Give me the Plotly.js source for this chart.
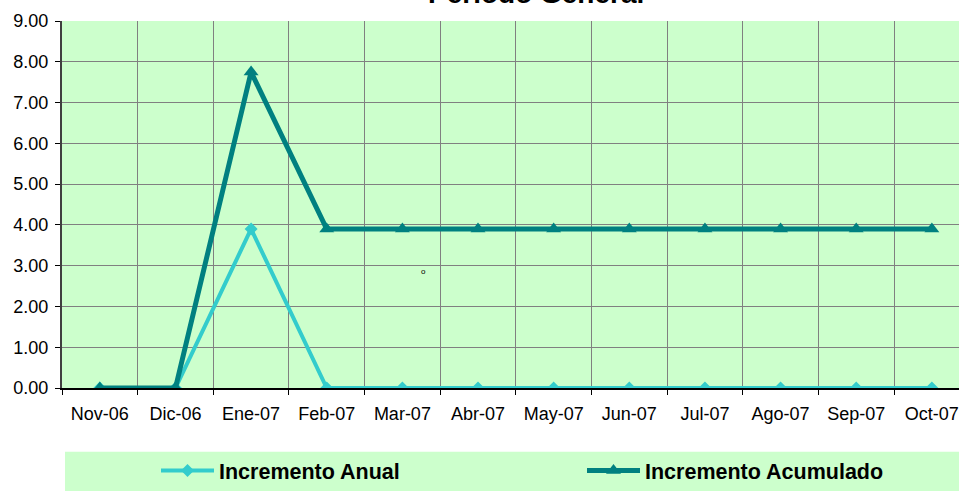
<!DOCTYPE html>
<html>
<head>
<meta charset="utf-8">
<script src="https://cdn.plot.ly/plotly-3.0.1.min.js"></script>
<style>
html,body{margin:0;padding:0;overflow:hidden;background:#fff;}
#chart{width:959px;height:491px;}
</style>
</head>
<body>
<div id="chart"></div>
<script>
const categories = ["Nov-06","Dic-06","Ene-07","Feb-07","Mar-07","Abr-07","May-07","Jun-07","Jul-07","Ago-07","Sep-07","Oct-07"];
const incrementoAnual = [0, 0, 3.9, 0, 0, 0, 0, 0, 0, 0, 0, 0];
const incrementoAcumulado = [0, 0, 7.75, 3.9, 3.9, 3.9, 3.9, 3.9, 3.9, 3.9, 3.9, 3.9];
const yTicks = [0,1,2,3,4,5,6,7,8,9];

const L = 62, R = 959, T = 21, B = 389;
const px = v => (v - L) / (R - L);
const py = v => (B - v) / (B - T);
const font = "Liberation Sans, Arial, sans-serif";

const traces = [
  {
    x: categories, y: incrementoAnual, name: "Incremento Anual",
    type: "scatter", mode: "lines+markers",
    line: {color: "#33CCCC", width: 4},
    marker: {symbol: "diamond", size: 10, color: "#33CCCC"},
    legend: "legend"
  },
  {
    x: categories, y: incrementoAcumulado, name: "Incremento Acumulado",
    type: "scatter", mode: "lines+markers",
    line: {color: "#008080", width: 5},
    marker: {symbol: "triangle-up", size: 13, color: "#008080"},
    legend: "legend2"
  }
];

const legendCommon = {
  orientation: "h", xanchor: "left", yanchor: "middle",
  bgcolor: "rgba(0,0,0,0)", borderwidth: 0,
  font: {family: font, size: 21.5, color: "#000", weight: "bold"},
  itemwidth: 53
};

const layout = {
  width: 959, height: 491,
  margin: {l: L, r: 0, t: T, b: 491 - B},
  paper_bgcolor: "#ffffff",
  plot_bgcolor: "#CCFFCC",
  font: {family: font, size: 16, color: "#000"},
  showlegend: true,
  legend: Object.assign({}, legendCommon, {x: px(156), y: py(472)}),
  legend2: Object.assign({}, legendCommon, {x: px(582), y: py(472)}),
  xaxis: {
    type: "category",
    categoryorder: "array", categoryarray: categories,
    range: [-0.5, -0.5 + (R - L) / 75.64],
    tickson: "boundaries",
    showgrid: true, gridcolor: "#808080", gridwidth: 1,
    ticks: "outside", ticklen: 5, tickcolor: "#000", tickwidth: 1,
    showline: true, linecolor: "#000", linewidth: 1.5,
    ticklabelstandoff: 9,
    tickfont: {family: font, size: 18, color: "#000"},
    fixedrange: true
  },
  yaxis: {
    range: [0, 9],
    tickvals: yTicks,
    tickformat: ".2f",
    showgrid: true, gridcolor: "#808080", gridwidth: 1,
    zeroline: false,
    ticks: "outside", ticklen: 5, tickcolor: "#000", tickwidth: 1,
    showline: true, linecolor: "#404040", linewidth: 2,
    ticklabelstandoff: 3,
    tickfont: {family: font, size: 18, color: "#000"},
    fixedrange: true
  },
  shapes: [
    {type: "rect", xref: "paper", yref: "paper", layer: "below",
     x0: px(65), x1: px(975), y0: py(453), y1: py(495),
     fillcolor: "#CCFFCC", line: {width: 0}}
  ],
  annotations: [
    {text: "Periodo General", xref: "paper", yref: "paper",
     x: px(536), y: py(11), xanchor: "center", yanchor: "bottom",
     showarrow: false, font: {family: font, size: 28, color: "#000", weight: "bold"}},
    {text: "o", xref: "paper", yref: "paper",
     x: px(423), y: py(272), xanchor: "center", yanchor: "middle",
     showarrow: false, font: {family: font, size: 8, color: "#000"}}
  ]
};

Plotly.newPlot("chart", traces, layout, {displayModeBar: false, staticPlot: true});
</script>
</body>
</html>
